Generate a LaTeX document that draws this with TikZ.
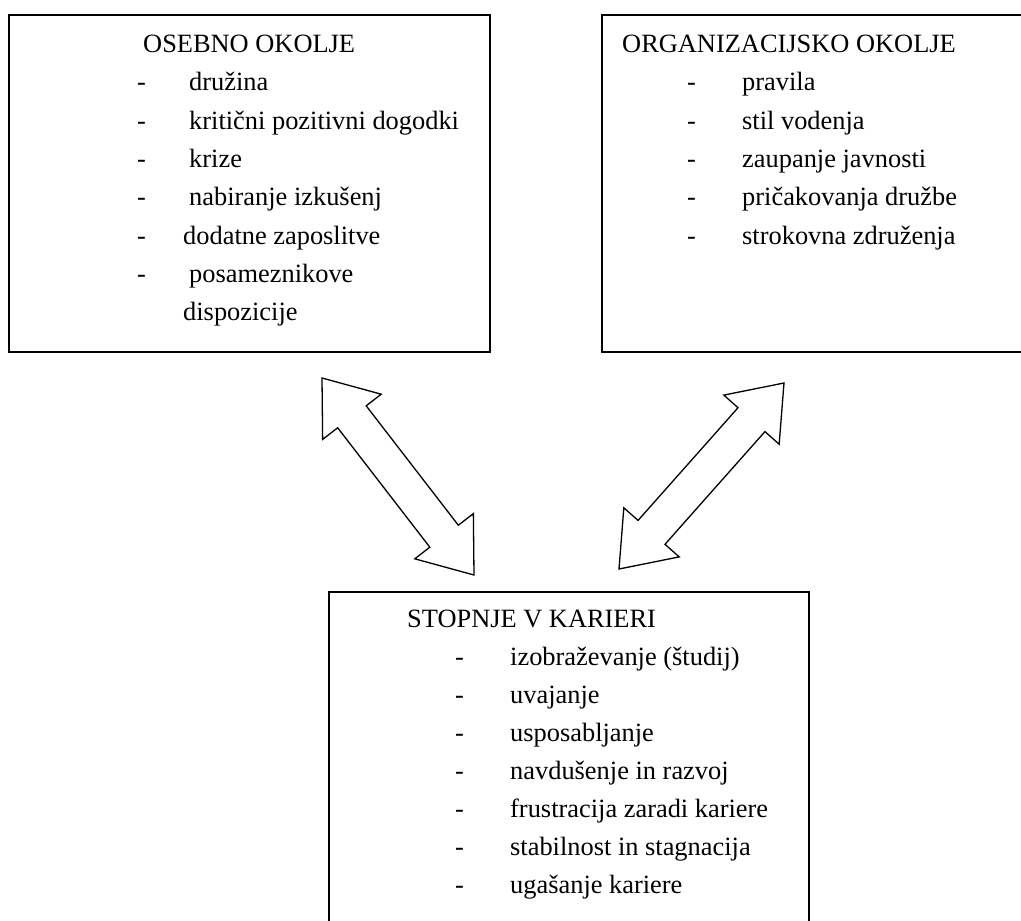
\documentclass[tikz,border=0pt]{standalone}
\usepackage{fontspec}
\setmainfont{Liberation Serif}
\usetikzlibrary{calc}

\tikzset{
  box/.style={draw, line width=1.6pt, rectangle, inner sep=0},
  txt/.style={anchor=base west, inner sep=0},
  hollow/.style={draw, line width=1.3pt, fill=white, line join=miter}
}
\newcommand{\headlen}{49pt}
\newcommand{\headw}{37pt}
\newcommand{\shaftw}{18pt}
\newcommand{\twoway}[2]{%
  \draw[hollow] (#1)
    -- ($(#1)!\headlen!(#2)!\headw!90:(#2)$)
    -- ($(#1)!\headlen!(#2)!\shaftw!90:(#2)$)
    -- ($(#2)!\headlen!(#1)!\shaftw!-90:(#1)$)
    -- ($(#2)!\headlen!(#1)!\headw!-90:(#1)$)
    -- (#2)
    -- ($(#2)!\headlen!(#1)!\headw!90:(#1)$)
    -- ($(#2)!\headlen!(#1)!\shaftw!90:(#1)$)
    -- ($(#1)!\headlen!(#2)!\shaftw!-90:(#2)$)
    -- ($(#1)!\headlen!(#2)!\headw!-90:(#2)$)
    -- cycle;}

\begin{document}
\begin{tikzpicture}[x=1pt,y=-1pt,font=\fontsize{26.4}{38}\selectfont]
\useasboundingbox (0,0) rectangle (1021,921);
\clip (0,0) rectangle (1021,921);

% the three boxes
\node[box, minimum width=481pt, minimum height=337pt] (osebno) at (249.5,183.5) {};
\node[box, minimum width=428pt, minimum height=337pt] (organiz) at (816,183.5) {};
\node[box, minimum width=480pt, minimum height=360pt] (stopnje) at (569,772) {};

% osebno okolje
\path (143,52) node[txt](osTitle){OSEBNO OKOLJE}
  (137,90) node[txt](osD1){-} (189,90) node[txt](os1){družina}
  (137,129) node[txt](osD2){-} (189,129) node[txt](os2){kritični pozitivni dogodki}
  (137,167) node[txt](osD3){-} (189,167) node[txt](os3){krize}
  (137,205) node[txt](osD4){-} (189,205) node[txt](os4){nabiranje izkušenj}
  (137,244) node[txt](osD5){-} (183,244) node[txt](os5){dodatne zaposlitve}
  (137,282) node[txt](osD6){-} (189,282) node[txt](os6){posameznikove}
  (183,320) node[txt](os7){dispozicije};

% organizacijsko okolje
\path (622,52) node[txt](orTitle){ORGANIZACIJSKO OKOLJE}
  (687,90) node[txt](orD1){-} (742,90) node[txt](or1){pravila}
  (687,129) node[txt](orD2){-} (742,129) node[txt](or2){stil vodenja}
  (687,167) node[txt](orD3){-} (742,167) node[txt](or3){zaupanje javnosti}
  (687,205) node[txt](orD4){-} (742,205) node[txt](or4){pričakovanja družbe}
  (687,244) node[txt](orD5){-} (742,244) node[txt](or5){strokovna združenja};

% stopnje v karieri
\path (407,627) node[txt](stTitle){STOPNJE V KARIERI}
  (455,665) node[txt](stD1){-} (510,665) node[txt](st1){izobraževanje (študij)}
  (455,703) node[txt](stD2){-} (510,703) node[txt](st2){uvajanje}
  (455,741) node[txt](stD3){-} (510,741) node[txt](st3){usposabljanje}
  (455,779) node[txt](stD4){-} (510,779) node[txt](st4){navdušenje in razvoj}
  (455,817) node[txt](stD5){-} (510,817) node[txt](st5){frustracija zaradi kariere}
  (455,855) node[txt](stD6){-} (510,855) node[txt](st6){stabilnost in stagnacija}
  (455,893) node[txt](stD7){-} (510,893) node[txt](st7){ugašanje kariere};

% double arrows
\coordinate (osTip) at (322,378);
\coordinate (stTipL) at (474,575);
\coordinate (orTip) at (784,383);
\coordinate (stTipR) at (619,569);
\twoway{osTip}{stTipL}
\twoway{orTip}{stTipR}
\end{tikzpicture}
\end{document}
